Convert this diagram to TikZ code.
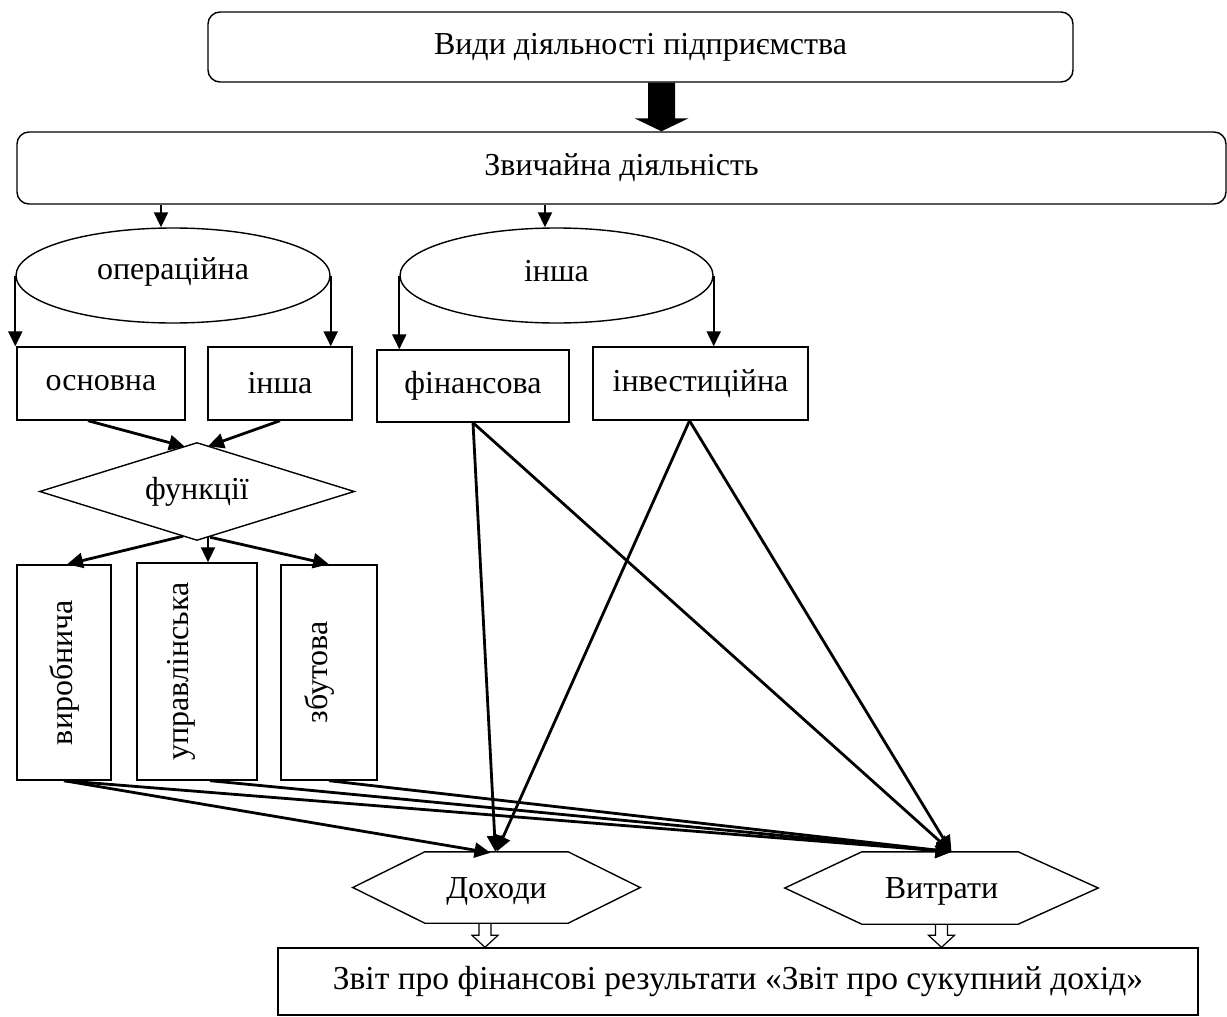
\documentclass[tikz,border=0pt]{standalone}
\usepackage{fontspec}
\setmainfont{Liberation Serif}
\usetikzlibrary{shapes.geometric,arrows.meta,calc}
\begin{document}
\begin{tikzpicture}[x=1pt,y=-1pt,
  every node/.style={font=\fontsize{32}{36}\selectfont, inner sep=0pt},
  shp/.style={line width=1.4pt},
  rbox/.style={draw, shp, rounded corners=12pt},
  sbox/.style={draw, shp},
  ell/.style={draw, shp, ellipse},
  arr/.style={line width=2pt, -{Triangle[length=15pt,width=14pt]}},
  darr/.style={line width=2.8pt, -{Triangle[length=16pt,width=15pt]}},
  hollow/.style={line width=1.2pt}
]
\useasboundingbox (0,0) rectangle (1227,1017);
\fill[white] (0,0) rectangle (1227,1017);

% nodes
\node[rbox, minimum width=865pt, minimum height=70pt] (top) at (640.5,47) {Види діяльності підприємства};
\node[rbox, minimum width=1209pt, minimum height=72pt] (zv) at (621.5,168) {Звичайна діяльність};
\node[ell, minimum width=314pt, minimum height=95pt] (ell1) at (173,275.5) {};
\node at ($(ell1.center)+(0,-4)$) {операційна};
\node[ell, minimum width=313pt, minimum height=95pt] (ell2) at (556.5,275.5) {};
\node at ($(ell2.center)+(0,-4)$) {інша};
\node[sbox, minimum width=168pt, minimum height=73pt] (osn) at (101,383.5) {основна};
\node[sbox, minimum width=144pt, minimum height=73pt] (insh) at (280,383.5) {інша};
\node[sbox, minimum width=192pt, minimum height=72pt] (fin) at (473,386) {фінансова};
\node[sbox, minimum width=215pt, minimum height=73pt] (inv) at (700.5,383.5) {інвестиційна};
\node[minimum width=314pt, minimum height=97pt] (fun) at (197,491.5) {функції};
\draw[shp] (fun.north) -- (fun.east) -- (fun.south) -- (fun.west) -- cycle;
\node[sbox, minimum width=94pt, minimum height=215pt] (vyr) at (64,672.5) {};
\node[rotate=90] at (vyr.center) {виробнича};
\node[sbox, minimum width=120pt, minimum height=217pt] (upr) at (197,671.5) {};
\node[rotate=90] at ($(upr.center)+(-16,0)$) {управлінська};
\node[sbox, minimum width=96pt, minimum height=215pt] (zb) at (329,672.5) {};
\node[rotate=90] at ($(zb.center)+(-10,0)$) {збутова};
\node[minimum width=287pt, minimum height=71pt] (dox) at (496.5,887.5) {};
\node at ($(dox.center)+(0,4)$) {Доходи};
\draw[shp] (dox.west) -- ($(dox.north west)+(72,0)$) -- ($(dox.north east)+(-72,0)$) -- (dox.east)
  -- ($(dox.south east)+(-72,0)$) -- ($(dox.south west)+(72,0)$) -- cycle;
\node[minimum width=313pt, minimum height=72pt] (vyt) at (941.5,888) {};
\node at ($(vyt.center)+(0,3)$) {Витрати};
\draw[shp] (vyt.west) -- ($(vyt.north west)+(77,0)$) -- ($(vyt.north east)+(-80,0)$) -- (vyt.east)
  -- ($(vyt.south east)+(-80,0)$) -- ($(vyt.south west)+(77,0)$) -- cycle;
\node[sbox, minimum width=920pt, minimum height=67pt, font=\fontsize{33.5}{37}\selectfont] (rep) at (738,981.5) {Звіт про фінансові результати «Звіт про сукупний дохід»};

% thick block arrow
\coordinate (ta) at ($(top.south)+(21,0)$);
\coordinate (tb) at (ta |- zv.north);
\fill ($(ta)+(-13.5,0)$) -- ($(tb)+(-13.5,-13)$) -- ($(tb)+(-27,-13)$) -- (tb)
  -- ($(tb)+(27,-13)$) -- ($(tb)+(13.5,-13)$) -- ($(ta)+(13.5,0)$) -- cycle;

% zv -> ellipses
\coordinate (e1t) at ($(ell1.north)+(-12,0)$);
\coordinate (e2t) at ($(ell2.north)+(-11.5,0)$);
\draw[arr] (e1t |- zv.south) -- (e1t);
\draw[arr] (e2t |- zv.south) -- (e2t);

% ellipses -> boxes
\draw[arr] (ell1.west) -- (ell1.west |- osn.north);
\draw[arr] (ell1.east) -- (ell1.east |- insh.north);
\draw[arr] (ell2.west) -- (ell2.west |- fin.north);
\draw[arr] (ell2.east) -- (ell2.east |- inv.north);

% boxes -> functions
\draw[darr] ($(osn.south)+(-13,0)$) -- ($(fun.north)+(-12,4)$);
\draw[darr] (insh.south) -- ($(fun.north)+(11,3.5)$);

% functions -> function boxes
\coordinate (fs) at ($(fun.south)+(11,-3.4)$);
\draw[darr] ($(fun.south)+(-14,-4)$) -- ($(vyr.north)+(3,0)$);
\draw[arr] (fs) -- (fs |- upr.north);
\draw[darr] ($(fun.south)+(13,-3)$) -- (zb.north);

% to incomes / expenses
\draw[darr] (fin.south) -- ($(dox.north)+(-1,0)$);
\draw[darr] (fin.south) -- ($(vyt.north)+(10,0)$);
\draw[darr] ($(inv.south)+(-11,0)$) -- ($(dox.north)+(0,0)$);
\draw[darr] ($(inv.south)+(-11,0)$) -- ($(vyt.north)+(10,0)$);
\draw[darr] (vyr.south) -- ($(dox.north)+(-6,1)$);
\draw[darr] (vyr.south) -- ($(vyt.north)+(10,0)$);
\draw[darr] ($(upr.south)+(13,0)$) -- ($(vyt.north)+(10,0)$);
\draw[darr] (zb.south) -- ($(vyt.north)+(10,0)$);

% hollow arrows to report
\coordinate (dt) at ($(dox.south)+(-11.5,0)$);
\coordinate (dtt) at (dt |- rep.north);
\draw[hollow] ($(dt)+(-6,0)$) |- ($(dtt)+(-13,-12)$) -- (dtt) -- ($(dtt)+(13,-12)$) -| ($(dt)+(6,0)$);
\coordinate (vt) at (vyt.south);
\coordinate (vtt) at (vt |- rep.north);
\draw[hollow] ($(vt)+(-6,0)$) |- ($(vtt)+(-13,-12)$) -- (vtt) -- ($(vtt)+(13,-12)$) -| ($(vt)+(6,0)$);
\end{tikzpicture}
\end{document}
